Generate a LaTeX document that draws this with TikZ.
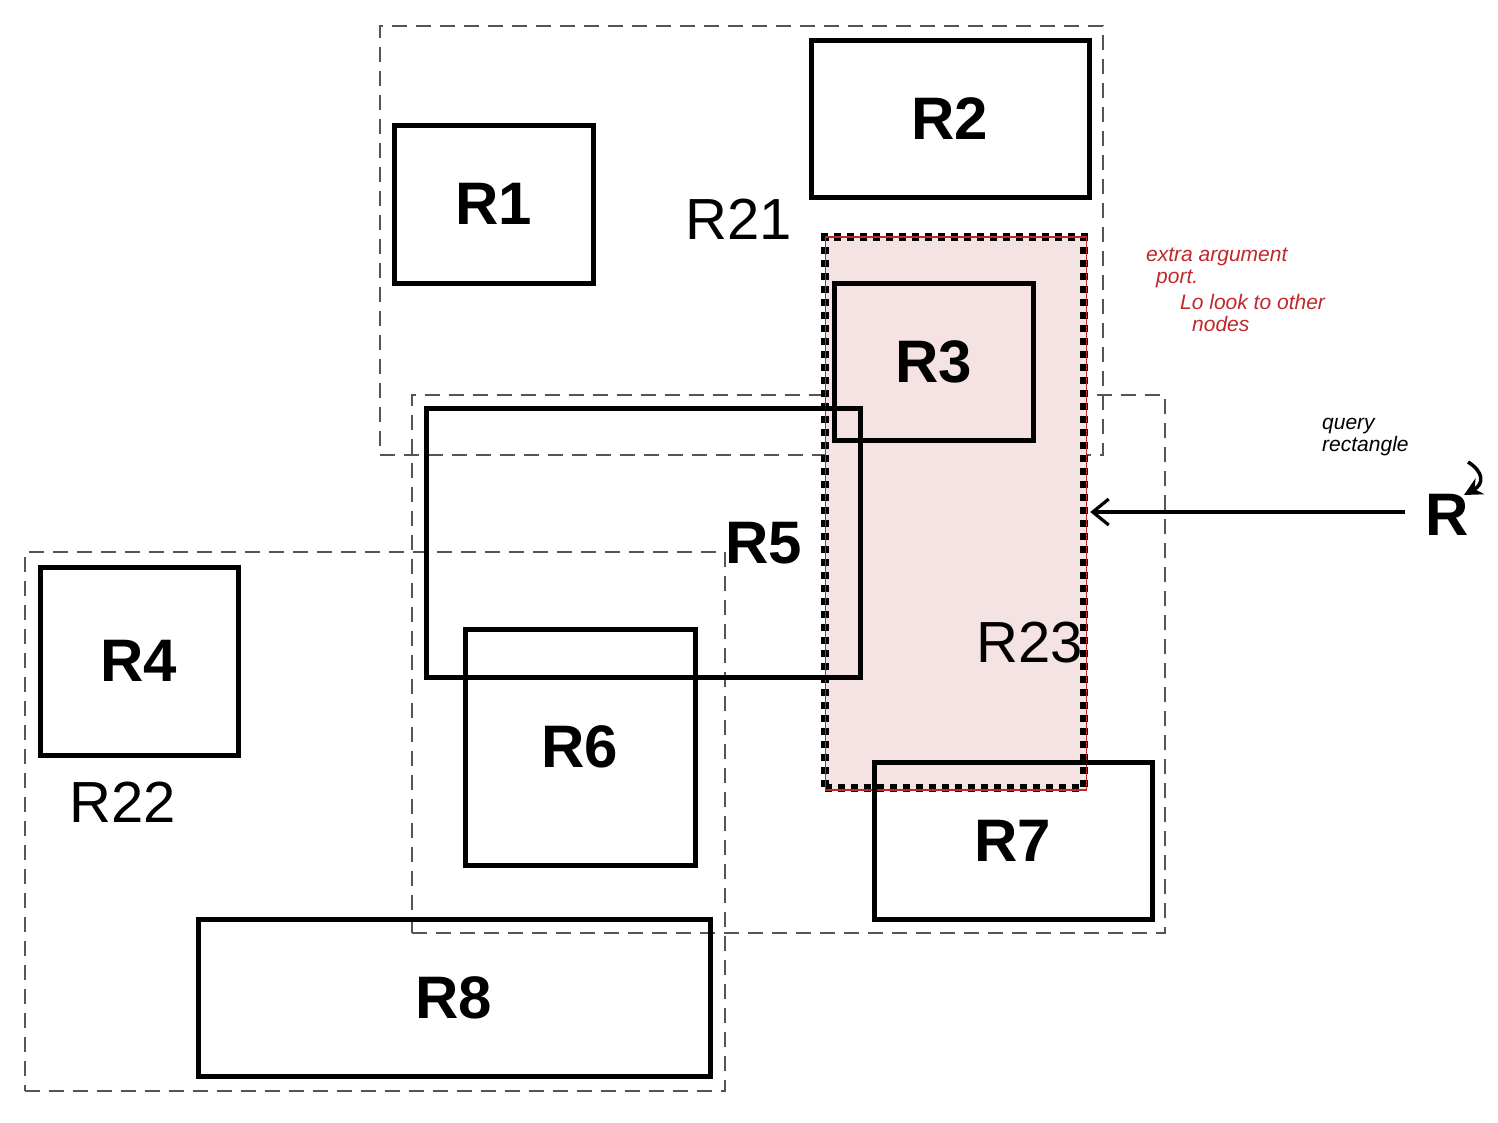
\documentclass[tikz,border=0pt]{standalone}
\usepackage{fontspec}
\setmainfont{Liberation Sans}
\usetikzlibrary{arrows.meta}
\definecolor{pinkfill}{HTML}{F5E3E4}
\definecolor{hand}{HTML}{C0282A}
\definecolor{dashgray}{HTML}{555555}
\begin{document}
\begin{tikzpicture}[x=1pt,y=-1pt,
  box/.style={draw=black,line width=5pt,minimum width=#1,inner sep=0pt,font=\fontsize{60}{60}\selectfont\bfseries},
  region/.style={draw=dashgray,line width=2.2pt,dash pattern=on 15pt off 9pt,inner sep=0pt},
  rlabel/.style={font=\fontsize{58}{58}\selectfont,inner sep=0pt},
  handred/.style={text=hand,font=\fontsize{21}{22}\selectfont\itshape,align=left,inner sep=0pt,anchor=north west},
  handblk/.style={text=black,font=\fontsize{21}{22}\selectfont\itshape,align=left,inner sep=0pt,anchor=north west}]
\useasboundingbox (0,0) rectangle (1498,1122);
% dashed regions
\node[region,minimum width=723pt,minimum height=429pt] (R21) at (741.5,240.5) {};
\node[region,minimum width=753pt,minimum height=538pt] (R23) at (788.5,664) {};
\node[region,minimum width=700pt,minimum height=539pt] (R22) at (375,821.5) {};
% highlighted area
\node[fill=pinkfill,minimum width=261pt,minimum height=553pt,inner sep=0pt] (hl) at (955.5,513.5) {};
\node[draw=black,line width=8pt,dash pattern=on 7pt off 6pt,minimum width=259pt,minimum height=551pt,inner sep=0pt] (hldot) at (954.5,512.5) {};
\node[draw=hand,line width=1.3pt,minimum width=261pt,minimum height=553pt,inner sep=0pt] (hlred) at (956,513.5) {};
% boxes
\node[box=199pt,minimum height=158pt] (R1) at (493.5,204) {R1};
\node[box=278pt,minimum height=157pt] (R2) at (950,118.5) {R2};
\node[box=199pt,minimum height=157pt] (R3) at (933.5,361.5) {R3};
\node[box=434pt,minimum height=269pt] (R5) at (643,542.5) {};
\node[font=\fontsize{60}{60}\selectfont\bfseries,inner sep=0pt] (R5l) at (764,543) {R5};
\node[box=198pt,minimum height=188pt] (R4) at (139,661) {R4};
\node[box=230pt,minimum height=236pt] (R6) at (580,747) {R6};
\node[box=278pt,minimum height=157pt] (R7) at (1013,840.5) {R7};
\node[box=512pt,minimum height=157pt] (R8) at (454,997.5) {R8};
% region labels
\node[rlabel] (R21l) at (739,219) {R21};
\node[rlabel] (R22l) at (123,802) {R22};
\node[rlabel] (R23l) at (1030,643) {R23};
% query
\node[font=\fontsize{60}{60}\selectfont\bfseries,inner sep=0pt] (R) at (1447,515) {R};
\coordinate (qs) at (1405,512);
\draw[line width=3.2pt,-{Straight Barb[length=16pt,width=26pt,line width=3.2pt]}] (qs) -- ([xshift=4pt]hl.east |- qs);
% annotations
\node[handred] (note) at (1146,248) {extra argument\\[0pt]\hspace*{10pt}port.\\[4pt]\hspace*{34pt}Lo look to other\\[0pt]\hspace*{46pt}nodes};
\node[handblk] (qnote) at (1322,418) {query\\rectangle};
\coordinate (qa) at (1468,462);
\draw[line width=3.5pt,-{Stealth[length=18pt,width=18pt]}] (qa) .. controls (1484,472) and (1484,484) .. (1464,495);
\end{tikzpicture}
\end{document}
